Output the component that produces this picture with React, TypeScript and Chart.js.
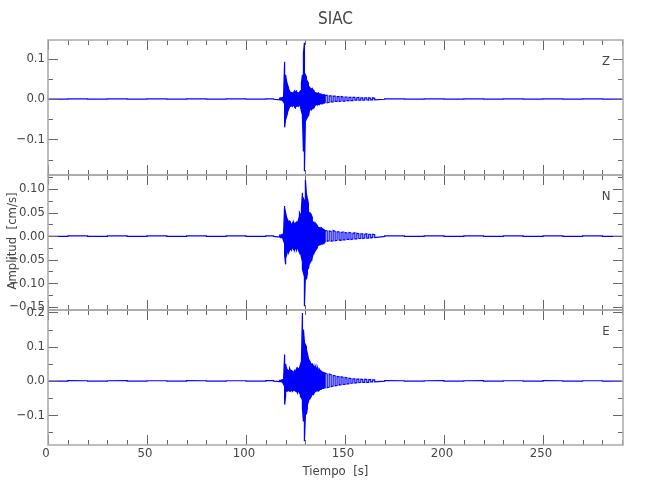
import React, { useEffect, useRef } from 'react';
import { Chart, registerables } from 'chart.js';

Chart.register(...registerables);

// Sample times (s)
const TIME = [
  0, 10, 20, 30, 40, 50, 60, 70, 80, 90, 100, 110, 114,
  117, 117.5, 118, 118.5, 119, 119.5, 120, 120.5, 121, 121.5, 122, 122.5, 123, 123.5, 124, 124.5,
  125, 125.5, 126, 126.5, 127, 127.5, 128, 128.5, 129, 129.5, 130, 130.5, 131, 131.5, 132, 132.5,
  133, 133.5, 134, 134.5, 135, 135.5, 136, 136.5, 137, 137.5, 138, 138.5, 139, 139.5, 140,
  141, 142, 143, 144, 145, 146, 147, 148, 149, 150, 151, 152, 153, 154, 155, 156, 157, 158, 159,
  160, 161, 162, 163, 164, 165,
  170, 180, 190, 200, 210, 220, 230, 240, 250, 260, 270, 280, 290,
];

// Z component: upper / lower envelope per sample (cm/s)
const Z_HI = [
  0.0005, 0.0004, 0.0005, 0.0004, 0.0006, 0.0004, 0.0005, 0.0004, 0.0006, 0.0005, 0.0004, 0.0005, 0.0006,
  0.002, 0.003, 0.003, 0.004, 0.01, 0.092, 0.06, 0.044, 0.035, 0.027, 0.02, 0.015, 0.016, 0.015, 0.017, 0.02,
  0.018, 0.02, 0.016, 0.015, 0.017, 0.02, 0.04, 0.06, 0.114, 0.139, 0.06, 0.055, 0.044, 0.04, 0.03, 0.027,
  0.025, 0.026, 0.022, 0.02, 0.016, 0.015, 0.014, 0.015, 0.013, 0.012, 0.012, 0.011, 0.01, 0.011, 0.009,
  0.009, 0.008, 0.008, 0.007, 0.007, 0.006, 0.006, 0.006, 0.005, 0.005, 0.005, 0.004, 0.004, 0.004, 0.004, 0.003, 0.004, 0.003, 0.003,
  0.003, 0.003, 0.003, 0.002, 0.003, 0.002,
  0.0006, 0.0005, 0.0004, 0.0005, 0.0004, 0.0006, 0.0005, 0.0006, 0.0005, 0.0004, 0.0005, 0.0004, 0.0004,
];
const Z_LO = [
  -0.0004, -0.0005, -0.0004, -0.0005, -0.0004, -0.0005, -0.0004, -0.0005, -0.0004, -0.0005, -0.0005, -0.0004, -0.0006,
  -0.002, -0.002, -0.003, -0.004, -0.008, -0.07, -0.05, -0.043, -0.035, -0.026, -0.02, -0.018, -0.017, -0.018, -0.016, -0.02,
  -0.022, -0.018, -0.017, -0.018, -0.016, -0.02, -0.03, -0.045, -0.13, -0.179, -0.055, -0.05, -0.045, -0.043, -0.03, -0.026,
  -0.027, -0.024, -0.022, -0.02, -0.015, -0.014, -0.015, -0.013, -0.014, -0.012, -0.011, -0.012, -0.01, -0.01, -0.009,
  -0.009, -0.008, -0.007, -0.007, -0.006, -0.006, -0.006, -0.005, -0.005, -0.005, -0.004, -0.004, -0.004, -0.004, -0.003, -0.003, -0.003, -0.003, -0.003,
  -0.003, -0.002, -0.003, -0.002, -0.002, -0.002,
  -0.0006, -0.0004, -0.0005, -0.0004, -0.0005, -0.0004, -0.0005, -0.0005, -0.0005, -0.0004, -0.0004, -0.0005, -0.0004,
];

// N component
const N_HI = [
  0.0005, 0.0005, 0.0006, 0.0005, 0.0005, 0.0006, 0.0005, 0.0005, 0.0005, 0.0006, 0.0005, 0.0005, 0.0006,
  0.002, 0.002, 0.003, 0.004, 0.01, 0.064, 0.05, 0.04, 0.035, 0.03, 0.032, 0.03, 0.025, 0.028, 0.03, 0.025,
  0.028, 0.03, 0.028, 0.035, 0.05, 0.045, 0.06, 0.092, 0.08, 0.075, 0.12, 0.09, 0.08, 0.07, 0.05, 0.048,
  0.045, 0.04, 0.03, 0.028, 0.028, 0.025, 0.022, 0.018, 0.018, 0.017, 0.018, 0.016, 0.015, 0.014, 0.012,
  0.011, 0.011, 0.01, 0.012, 0.01, 0.009, 0.009, 0.008, 0.009, 0.008, 0.007, 0.008, 0.007, 0.006, 0.007, 0.006, 0.005, 0.005, 0.005,
  0.004, 0.005, 0.004, 0.004, 0.004, 0.003,
  0.0006, 0.0005, 0.0005, 0.0006, 0.0005, 0.0005, 0.0006, 0.0005, 0.0005, 0.0005, 0.0006, 0.0005, 0.0005,
];
const N_LO = [
  -0.0005, -0.0006, -0.0005, -0.0005, -0.0006, -0.0005, -0.0005, -0.0006, -0.0005, -0.0005, -0.0006, -0.0005, -0.0006,
  -0.002, -0.003, -0.003, -0.004, -0.01, -0.04, -0.06, -0.04, -0.032, -0.035, -0.03, -0.028, -0.03, -0.025, -0.028, -0.03,
  -0.025, -0.03, -0.025, -0.03, -0.035, -0.035, -0.045, -0.07, -0.078, -0.149, -0.085, -0.092, -0.08, -0.07, -0.057, -0.055,
  -0.05, -0.045, -0.035, -0.035, -0.03, -0.028, -0.025, -0.02, -0.018, -0.018, -0.016, -0.017, -0.015, -0.015, -0.012,
  -0.011, -0.01, -0.011, -0.01, -0.01, -0.009, -0.008, -0.009, -0.008, -0.008, -0.007, -0.007, -0.007, -0.006, -0.006, -0.006, -0.005, -0.005, -0.005,
  -0.004, -0.004, -0.004, -0.004, -0.003, -0.003,
  -0.0005, -0.0006, -0.0005, -0.0005, -0.0006, -0.0005, -0.0005, -0.0006, -0.0005, -0.0006, -0.0005, -0.0005, -0.0005,
];

// E component
const E_HI = [
  0.0005, 0.0006, 0.0005, 0.0005, 0.0006, 0.0005, 0.0005, 0.0006, 0.0005, 0.0005, 0.0005, 0.0006, 0.0006,
  0.002, 0.002, 0.003, 0.004, 0.01, 0.077, 0.05, 0.035, 0.033, 0.03, 0.037, 0.03, 0.03, 0.028, 0.025, 0.03,
  0.028, 0.035, 0.038, 0.035, 0.038, 0.048, 0.06, 0.198, 0.15, 0.115, 0.106, 0.1, 0.08, 0.067, 0.06, 0.055,
  0.05, 0.05, 0.045, 0.04, 0.043, 0.035, 0.04, 0.03, 0.035, 0.03, 0.028, 0.025, 0.025, 0.023, 0.023,
  0.02, 0.02, 0.018, 0.016, 0.015, 0.013, 0.012, 0.012, 0.011, 0.01, 0.009, 0.008, 0.007, 0.006, 0.006, 0.005, 0.005, 0.005, 0.004,
  0.005, 0.004, 0.004, 0.004, 0.003, 0.003,
  0.0006, 0.0005, 0.0005, 0.0006, 0.0005, 0.0006, 0.0005, 0.0005, 0.0006, 0.0005, 0.0005, 0.0005, 0.0005,
];
const E_LO = [
  -0.0005, -0.0005, -0.0006, -0.0005, -0.0005, -0.0006, -0.0005, -0.0005, -0.0006, -0.0005, -0.0005, -0.0005, -0.0006,
  -0.002, -0.002, -0.003, -0.004, -0.01, -0.069, -0.045, -0.03, -0.03, -0.028, -0.03, -0.03, -0.028, -0.03, -0.027, -0.028,
  -0.03, -0.03, -0.035, -0.03, -0.035, -0.045, -0.05, -0.08, -0.118, -0.176, -0.1, -0.098, -0.08, -0.06, -0.05, -0.05,
  -0.045, -0.04, -0.04, -0.035, -0.03, -0.03, -0.028, -0.03, -0.028, -0.025, -0.025, -0.022, -0.022, -0.02, -0.02,
  -0.02, -0.018, -0.017, -0.015, -0.014, -0.013, -0.012, -0.011, -0.01, -0.01, -0.009, -0.008, -0.007, -0.006, -0.006, -0.005, -0.005, -0.004, -0.004,
  -0.004, -0.004, -0.004, -0.003, -0.003, -0.003,
  -0.0005, -0.0006, -0.0005, -0.0005, -0.0005, -0.0006, -0.0005, -0.0005, -0.0005, -0.0006, -0.0005, -0.0005, -0.0005,
];

// Tick labels
const X_TICKS = [0, 50, 100, 150, 200, 250];
const Z_TICKS = [-0.1, 0.0, 0.1];
const N_TICKS = [-0.15, -0.1, -0.05, 0.0, 0.05, 0.1];
const E_TICKS = [-0.1, 0.0, 0.1, 0.2];

const TITLE = 'SIAC';
const X_TITLE = 'Tiempo  [s]';
const Y_TITLE = 'Amplitud  [cm/s]';

const PANELS = [
  { id: 'yZ', name: 'Z', hi: Z_HI, lo: Z_LO, min: -0.188, max: 0.146, ticks: Z_TICKS, minor: 0.05, digits: 1, weight: 3 },
  { id: 'yN', name: 'N', hi: N_HI, lo: N_LO, min: -0.157, max: 0.130, ticks: N_TICKS, minor: 0.025, digits: 2, weight: 2 },
  { id: 'yE', name: 'E', hi: E_HI, lo: E_LO, min: -0.187, max: 0.207, ticks: E_TICKS, minor: 0.05, digits: 1, weight: 1 },
];

const FONT = "'Liberation Sans Narrow', 'DejaVu Sans Condensed', 'Liberation Sans', sans-serif";
const TEXT_COLOR = '#444';

// min/max decimated trace: each sample drawn as a vertical stroke between its envelope values
function zigzag(hi: number[], lo: number[]) {
  const pts: { x: number; y: number }[] = [];
  TIME.forEach((t, i) => {
    const first = i % 2 === 0 ? hi[i] : lo[i];
    const second = i % 2 === 0 ? lo[i] : hi[i];
    pts.push({ x: t, y: first });
    pts.push({ x: t, y: second });
  });
  return pts;
}

function fmt(v: number, digits: number) {
  const s = Math.abs(v).toFixed(digits);
  return (v < -1e-9 ? '\u2212' : '') + s;
}

const framePlugin = {
  id: 'seisFrames',
  afterDraw(chart: any) {
    const ctx: CanvasRenderingContext2D = chart.ctx;
    const xs = chart.scales.x;
    const left = chart.chartArea.left;
    const right = chart.chartArea.right;
    ctx.save();
    let lastBottom = 0;
    PANELS.forEach((p) => {
      const s = chart.scales[p.id];
      const top = s.top;
      const bottom = s.bottom;
      lastBottom = Math.max(lastBottom, bottom);
      ctx.strokeStyle = '#666';
      ctx.lineWidth = 1;
      for (let v = 0; v <= xs.max + 1e-6; v += 10) {
        const px = Math.round(xs.getPixelForValue(v)) + 0.5;
        const major = v % 50 === 0;
        const len = major ? 10 : 5;
        ctx.beginPath();
        ctx.moveTo(px, bottom);
        ctx.lineTo(px, bottom - len);
        ctx.moveTo(px, top);
        ctx.lineTo(px, top + len);
        ctx.stroke();
      }
      const kMin = Math.ceil(p.min / p.minor - 1e-6);
      const kMax = Math.floor(p.max / p.minor + 1e-6);
      for (let k = kMin; k <= kMax; k++) {
        const v = k * p.minor;
        const py = Math.round(s.getPixelForValue(v)) + 0.5;
        const major = p.ticks.some((t) => Math.abs(t - v) < 1e-6);
        const len = major ? 10 : 5;
        ctx.beginPath();
        ctx.moveTo(left, py);
        ctx.lineTo(left + len, py);
        ctx.moveTo(right, py);
        ctx.lineTo(right - len, py);
        ctx.stroke();
      }
      ctx.strokeStyle = '#a8a8a8';
      ctx.lineWidth = 1.5;
      ctx.strokeRect(left, top, right - left, bottom - top);
      ctx.fillStyle = TEXT_COLOR;
      ctx.font = `13px ${FONT}`;
      ctx.textAlign = 'right';
      ctx.textBaseline = 'middle';
      p.ticks.forEach((t) => {
        ctx.fillText(fmt(t, p.digits), left - 3, s.getPixelForValue(t));
      });
      ctx.textAlign = 'center';
      ctx.fillText(p.name, 606, top + 21.5);
    });
    ctx.fillStyle = TEXT_COLOR;
    ctx.font = `13px ${FONT}`;
    ctx.textAlign = 'center';
    ctx.textBaseline = 'middle';
    X_TICKS.forEach((t) => {
      ctx.fillText(String(t), xs.getPixelForValue(t) - 2, lastBottom + 9);
    });
    ctx.fillText(X_TITLE, (left + right) / 2, lastBottom + 27);
    ctx.font = `17px ${FONT}`;
    ctx.fillText(TITLE, (left + right) / 2, 20);
    ctx.font = `13px ${FONT}`;
    ctx.translate(12.5, 241);
    ctx.rotate(-Math.PI / 2);
    ctx.fillText(Y_TITLE, 0, 0);
    ctx.restore();
  },
};

export default function App() {
  const ref = useRef<HTMLCanvasElement | null>(null);
  useEffect(() => {
    if (!ref.current) return;
    const scales: any = {
      x: {
        type: 'linear',
        min: 0,
        max: 290.4,
        ticks: { display: false },
        grid: { display: false },
        border: { display: false },
        afterFit: (s: any) => { s.height = 0; },
      },
    };
    PANELS.forEach((p) => {
      scales[p.id] = {
        type: 'linear',
        position: 'left',
        stack: 'seis',
        stackWeight: 1,
        weight: p.weight,
        min: p.min,
        max: p.max,
        ticks: { display: false },
        grid: { display: false },
        border: { display: false },
        afterFit: (s: any) => { s.width = 0; },
      };
    });
    const chart = new Chart(ref.current, {
      type: 'line',
      data: {
        datasets: PANELS.map((p) => ({
          label: p.name,
          data: zigzag(p.hi, p.lo),
          yAxisID: p.id,
          borderColor: '#0000ff',
          borderWidth: 1.2,
          pointRadius: 0,
          tension: 0,
          fill: false,
        })),
      },
      options: {
        responsive: false,
        maintainAspectRatio: false,
        animation: false,
        layout: { padding: { left: 48, right: 27, top: 40, bottom: 55 } },
        plugins: {
          legend: { display: false },
          tooltip: { enabled: false },
          title: { display: false },
        },
        scales,
      },
      plugins: [framePlugin],
    });
    return () => chart.destroy();
  }, []);
  return (
    <div style={{ position: 'absolute', left: 0, top: 0, width: 650, height: 500, background: '#fff' }}>
      <canvas ref={ref} width={650} height={500} />
    </div>
  );
}
